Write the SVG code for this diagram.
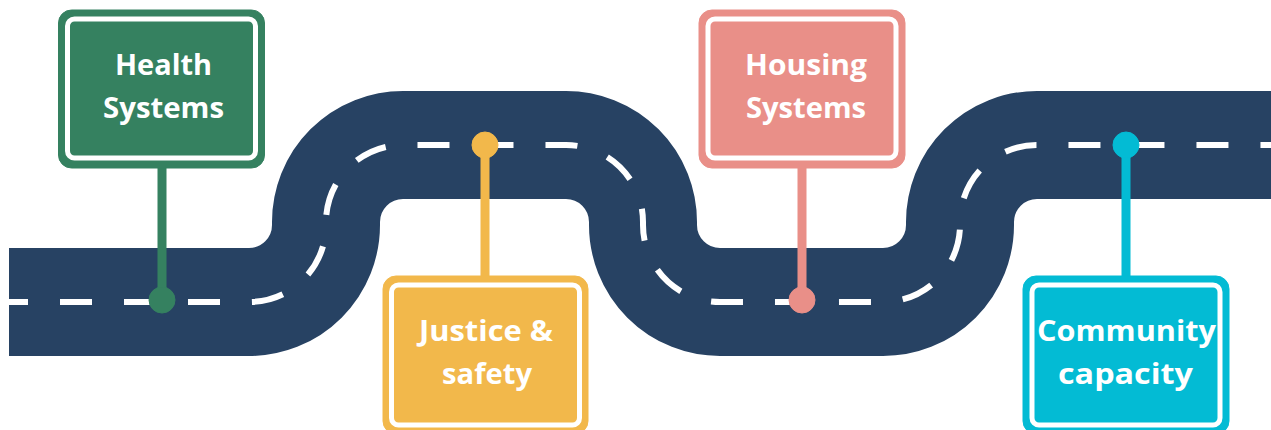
<svg xmlns="http://www.w3.org/2000/svg" width="1271" height="430" viewBox="0 0 1271 430">
<style>
.road{fill:none;stroke:#274263;stroke-width:108;stroke-linecap:butt;stroke-linejoin:round}
.dash{fill:none;stroke:#ffffff;stroke-width:6;stroke-dasharray:32 32;stroke-dashoffset:13}
.lbl{fill:#ffffff;font-family:"Open Sans","Liberation Sans",sans-serif;font-weight:700;font-size:29px;text-anchor:middle}
.green{fill:#358160;stroke:#358160}
.yellow{fill:#F2B84B;stroke:#F2B84B}
.pink{fill:#E98F88;stroke:#E98F88}
.cyan{fill:#03BBD4;stroke:#03BBD4}
.pole{stroke-width:9;fill:none}
rect.inner{stroke:#ffffff;stroke-width:5}
</style>
<rect width="1271" height="430" fill="#ffffff"/>
<g id="road">
<path class="road" d="M9,302 H249 A77,77 0 0 0 326,225 V222 A77,77 0 0 1 403,145 H566 A77,77 0 0 1 643,222 V225 A77,77 0 0 0 720,302 H883 A77,77 0 0 0 960,225 V222 A77,77 0 0 1 1037,145 H1271"/>
<path class="dash" d="M9,302 H249 A77,77 0 0 0 326,225 V222 A77,77 0 0 1 403,145 H566 A77,77 0 0 1 643,222 V225 A77,77 0 0 0 720,302 H883 A77,77 0 0 0 960,225 V222 A77,77 0 0 1 1037,145 H1271"/>
</g>
<g id="connectors">
<line class="pole green" x1="162" y1="160" x2="162" y2="300"/>
<circle class="green" cx="162" cy="300" r="13" stroke="none"/>
<line class="pole yellow" x1="485" y1="145" x2="485" y2="280"/>
<circle class="yellow" cx="485" cy="145" r="13" stroke="none"/>
<line class="pole pink" x1="802" y1="160" x2="802" y2="300"/>
<circle class="pink" cx="802" cy="300" r="13" stroke="none"/>
<line class="pole cyan" x1="1126" y1="145" x2="1126" y2="280"/>
<circle class="cyan" cx="1126" cy="145" r="13" stroke="none"/>
</g>
<g id="health">
<rect class="green" x="58.5" y="10" width="206" height="158" rx="13" stroke="none"/>
<rect class="green inner" x="67.5" y="19" width="188" height="139" rx="7"/>
<text class="lbl" x="163.5" y="75" textLength="97" lengthAdjust="spacingAndGlyphs">Health</text>
<text class="lbl" x="163.5" y="118" textLength="121" lengthAdjust="spacingAndGlyphs">Systems</text>
</g>
<g id="justice">
<rect class="yellow" x="383" y="276" width="205" height="158" rx="13" stroke="none"/>
<rect class="yellow inner" x="391.5" y="285" width="188" height="140" rx="7"/>
<text class="lbl" x="486" y="341" textLength="134" lengthAdjust="spacingAndGlyphs">Justice &amp;</text>
<text class="lbl" x="487" y="384" textLength="90" lengthAdjust="spacingAndGlyphs">safety</text>
</g>
<g id="housing">
<rect class="pink" x="699" y="10" width="206" height="158" rx="13" stroke="none"/>
<rect class="pink inner" x="708" y="19" width="188" height="139" rx="7"/>
<text class="lbl" x="806" y="75" textLength="122" lengthAdjust="spacingAndGlyphs">Housing</text>
<text class="lbl" x="806" y="118" textLength="120" lengthAdjust="spacingAndGlyphs">Systems</text>
</g>
<g id="community">
<rect class="cyan" x="1023" y="276" width="206" height="158" rx="13" stroke="none"/>
<rect class="cyan inner" x="1032" y="285" width="188" height="140" rx="7"/>
<text class="lbl" x="1126.5" y="341" textLength="179" lengthAdjust="spacingAndGlyphs">Community</text>
<text class="lbl" x="1125.5" y="384" textLength="135" lengthAdjust="spacingAndGlyphs">capacity</text>
</g>
</svg>
